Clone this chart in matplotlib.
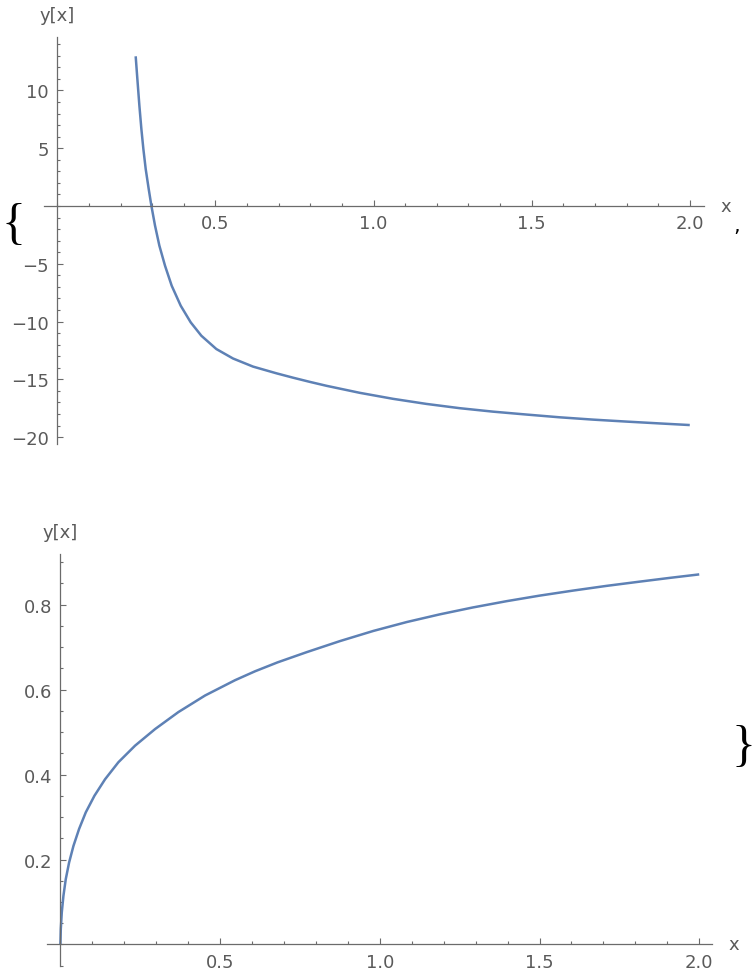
import matplotlib.pyplot as plt
from matplotlib.ticker import MultipleLocator, FixedLocator

# top solution
x_top = [0.2479, 0.2532, 0.2596, 0.2659, 0.2722, 0.2796, 0.2891, 0.2975, 0.3091, 0.3228,
         0.3407, 0.3618, 0.3903, 0.4219, 0.4556, 0.5030, 0.5558, 0.6190, 0.6929, 0.7455,
         0.7982, 0.8509, 0.9564, 1.0618, 1.1672, 1.2726, 1.3780, 1.4835, 1.5889, 1.6943,
         1.7997, 1.9051, 2.0]
y_top = [12.96, 11.00, 8.69, 6.67, 4.94, 3.20, 1.47, 0.03, -1.70, -3.43,
         -5.17, -6.90, -8.63, -10.07, -11.23, -12.38, -13.20, -13.90, -14.48, -14.86,
         -15.22, -15.56, -16.17, -16.69, -17.13, -17.50, -17.80, -18.05, -18.29, -18.49,
         -18.66, -18.82, -18.96]

# bottom solution
x_bot = [0.0, 0.0012, 0.0043, 0.0095, 0.0168, 0.0272, 0.0408, 0.0585, 0.0794, 0.1065,
         0.1399, 0.1816, 0.2338, 0.2964, 0.3694, 0.4529, 0.5468, 0.6094, 0.680, 0.771,
         0.875, 0.980, 1.085, 1.188, 1.290, 1.397, 1.500, 1.606, 1.710, 1.814, 1.910, 2.0]
y_bot = [0.0, 0.0365, 0.0757, 0.115, 0.154, 0.193, 0.232, 0.272, 0.311, 0.350,
         0.389, 0.429, 0.468, 0.507, 0.547, 0.586, 0.622, 0.643, 0.664, 0.688,
         0.714, 0.738, 0.759, 0.777, 0.793, 0.808, 0.821, 0.833, 0.844, 0.854, 0.863, 0.871]

xticks = [0.5, 1.0, 1.5, 2.0]
xtick_labels = ["0.5", "1.0", "1.5", "2.0"]
yticks_top = [-20, -15, -10, -5, 5, 10]
yticks_bot = [0.2, 0.4, 0.6, 0.8]

LINE = "#5E81B5"
AXC = "#6b6b6b"
TXT = "#5a5a5a"

W, H = 756, 978
fig = plt.figure(figsize=(W / 100, H / 100), dpi=100)


def px_axes(l, t, r, b):
    return fig.add_axes([l / W, 1 - b / H, (r - l) / W, (b - t) / H])


def style(ax, xlim, ylim, yticks, ylabels, yminor):
    ax.set_xlim(*xlim)
    ax.set_ylim(*ylim)
    for s in ["top", "right"]:
        ax.spines[s].set_visible(False)
    for s in ["left", "bottom"]:
        ax.spines[s].set_position(("data", 0))
        ax.spines[s].set_color(AXC)
        ax.spines[s].set_linewidth(0.9)
    ax.xaxis.set_major_locator(FixedLocator(xticks))
    ax.set_xticklabels(xtick_labels)
    ax.xaxis.set_minor_locator(MultipleLocator(0.1))
    ax.yaxis.set_major_locator(FixedLocator(yticks))
    ax.set_yticklabels(ylabels)
    ax.yaxis.set_minor_locator(MultipleLocator(yminor))
    ax.tick_params(which="both", direction="in", color=AXC, width=0.8,
                   labelcolor=TXT, labelsize=13)
    ax.tick_params(which="major", length=4, pad=6)
    ax.tick_params(which="minor", length=2.5)
    ax.set_facecolor("none")
    ax.annotate("x", xy=(1, 0), xycoords=("axes fraction", "data"),
                xytext=(16, 0), textcoords="offset points",
                ha="center", va="center", color=TXT, fontsize=13)
    ax.annotate("y[x]", xy=(0, 1), xycoords=("data", "axes fraction"),
                xytext=(0, 16), textcoords="offset points",
                ha="center", va="center", color=TXT, fontsize=13)


ax1 = px_axes(44, 38, 704, 445)
ax1.plot(x_top, y_top, color=LINE, lw=1.8, solid_capstyle="butt")
style(ax1, (-0.042, 2.045), (-20.6, 14.63), yticks_top,
      ["\u221220", "\u221215", "\u221210", "\u22125", "5", "10"], 1)

ax2 = px_axes(47, 555, 712, 967)
ax2.plot(x_bot, y_bot, color=LINE, lw=1.8, solid_capstyle="butt")
style(ax2, (-0.042, 2.04), (-0.0506, 0.919), yticks_bot,
      ["0.2", "0.4", "0.6", "0.8"], 0.05)

# list braces and comma around the two graphics
fig.text(1 / W, 1 - 226 / H, "{", fontsize=36, family="Liberation Serif",
         ha="left", va="center", color="black")
fig.text(737 / W, 1 - 226 / H, ",", fontsize=15, ha="center", va="center",
         color="black")
fig.text(755 / W, 1 - 748 / H, "}", fontsize=36, family="Liberation Serif",
         ha="right", va="center", color="black")

fig.savefig("out.png", dpi=100)
